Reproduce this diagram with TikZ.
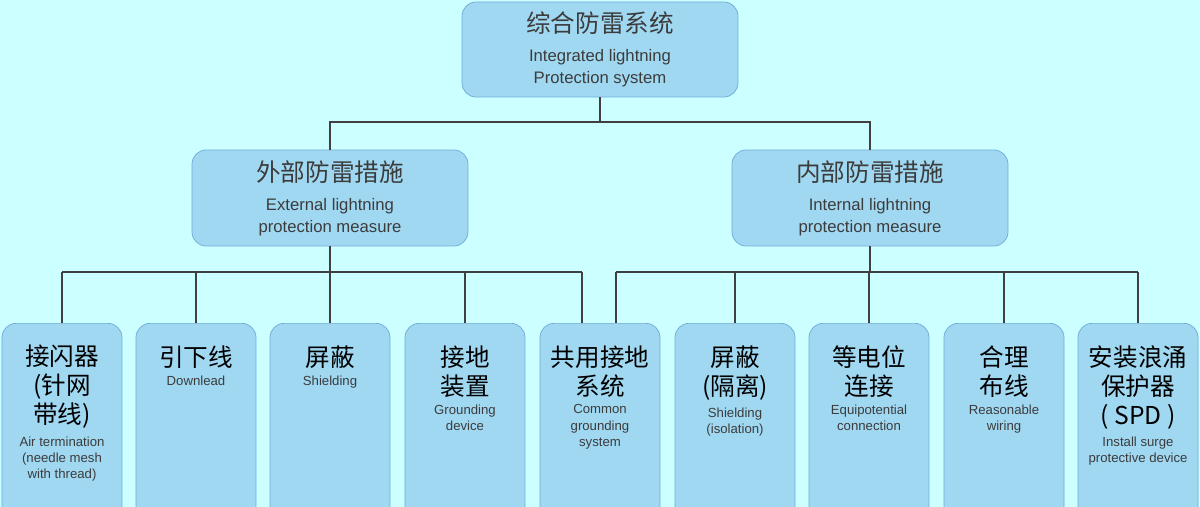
\documentclass[tikz,border=0pt]{standalone}
\usepackage{fontspec}
\setmainfont{Liberation Sans}
\newfontfamily\cjk{Noto Sans CJK SC}
\usetikzlibrary{positioning}
\definecolor{bgcyan}{RGB}{204,255,255}
\definecolor{boxblue}{RGB}{160,216,242}
\definecolor{boxline}{RGB}{110,170,215}
\definecolor{txtgray}{RGB}{60,60,60}
\newcommand{\zhbig}{\cjk\fontsize{14}{16.5}\selectfont}
\newcommand{\enmid}{\color{txtgray}\fontspec{Liberation Sans}\fontsize{9.5}{12.5}\selectfont}
\newcommand{\ensmall}{\color{txtgray}\fontspec{Liberation Sans}\fontsize{7.5}{9.3}\selectfont}
\begin{document}
\begin{tikzpicture}[x=0.02cm,y=-0.02cm,
    box/.style={draw=boxline, fill=boxblue, rounded corners=8pt, align=center, inner sep=1pt},
    top/.style={box, minimum width=5.52cm, minimum height=1.9cm},
    mid/.style={box, minimum width=5.52cm, minimum height=1.92cm},
    leaf/.style={box, minimum width=2.4cm, minimum height=4cm, anchor=north},
    zhlabel/.style={align=center, anchor=north, inner sep=0pt, font=\zhbig},
    enlabel/.style={align=center, anchor=north, inner sep=0pt, font=\ensmall},
    link/.style={draw=black!75, thick}]
  \clip (0,0) rectangle (1200,507);
  \fill[bgcyan] (0,0) rectangle (1200,507);

  \node[top, font=\enmid] (root) at (600,49.5) {{\zhbig 综合防雷系统}\\[4pt]
    Integrated lightning\\Protection system};
  \node[mid, font=\enmid] (ext) at (330,198) {{\zhbig 外部防雷措施}\\[4pt]
    External lightning\\protection measure};
  \node[mid, font=\enmid] (int) at (870,198) {{\zhbig 内部防雷措施}\\[4pt]
    Internal lightning\\protection measure};

  % leaves
  \foreach \name/\cx in {a/62,b/196,c/330,d/465,e/600,f/735,g/869,h/1004,i/1138}
    \node[leaf] (\name) at (\cx,323) {};
  \foreach \name/\zhtext/\entext in {
      a/{接闪器\\(针网\\带线)}/{Air termination\\(needle mesh\\with thread)},
      b/{引下线}/{Downlead},
      c/{屏蔽}/{Shielding},
      d/{接地\\装置}/{Grounding\\device},
      e/{共用接地\\系统}/{Common\\grounding\\system},
      f/{屏蔽\\(隔离)}/{Shielding\\(isolation)},
      g/{等电位\\连接}/{Equipotential\\connection},
      h/{合理\\布线}/{Reasonable\\wiring},
      i/{安装浪涌\\保护器\\( SPD )}/{Install surge\\protective device}}
  {
    \node[zhlabel] (\name zh) at ([yshift=-0.44cm]\name.north) {\zhtext};
    \node[enlabel] (\name en) at ([yshift=-0.14cm]\name zh.south) {\entext};
  }

  % connectors
  \coordinate (r1) at (330,122);
  \coordinate (r2) at (870,122);
  \draw[link] (root.south) |- (r1) -- (ext.north);
  \draw[link] (root.south) |- (r2) -- (int.north);
  \coordinate (el) at (62,272);
  \coordinate (er) at (582,272);
  \coordinate (il) at (616,272);
  \coordinate (ir) at (1138,272);
  \draw[link] (ext.south) -- (330,272);
  \draw[link] (el) -- (er);
  \draw[link] (int.south) -- (870,272);
  \draw[link] (il) -- (ir);
  \foreach \n/\x in {a/62,b/196,c/330,d/465}
    \draw[link] (\x,272) -- (\n.north -| \x,0);
  \draw[link] (er) -- (e.north -| er);
  \draw[link] (il) -- (e.north -| il);
  \foreach \n/\x in {f/735,g/869,h/1004,i/1138}
    \draw[link] (\x,272) -- (\n.north -| \x,0);
\end{tikzpicture}
\end{document}
